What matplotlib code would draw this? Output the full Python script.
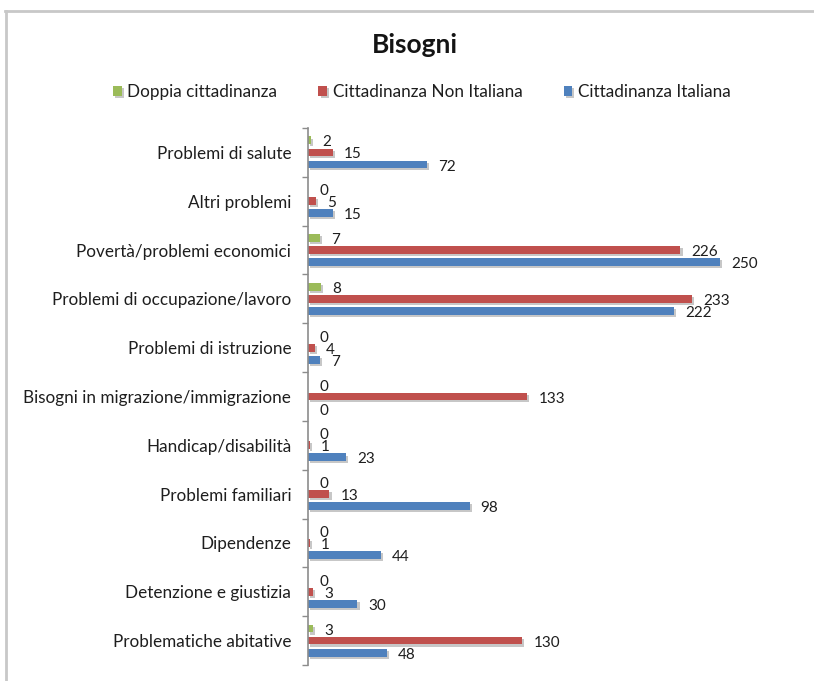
import matplotlib
matplotlib.use("Agg")
import matplotlib.pyplot as plt
import matplotlib.patheffects as pe
from matplotlib.lines import Line2D
import numpy as np

plt.rcParams['font.family'] = ['Lato', 'DejaVu Sans']

title = "Bisogni"
categories = [
    "Problemi di salute",
    "Altri problemi",
    "Povertà/problemi economici",
    "Problemi di occupazione/lavoro",
    "Problemi di istruzione",
    "Bisogni in migrazione/immigrazione",
    "Handicap/disabilità",
    "Problemi familiari",
    "Dipendenze",
    "Detenzione e giustizia",
    "Problematiche abitative",
]
series_names = ["Doppia cittadinanza", "Cittadinanza Non Italiana", "Cittadinanza Italiana"]
doppia = [2, 0, 7, 8, 0, 0, 0, 0, 0, 0, 3]
non_italiana = [15, 5, 226, 233, 4, 133, 1, 13, 1, 3, 130]
italiana = [72, 15, 250, 222, 7, 0, 23, 98, 44, 30, 48]
colors = ["#9BBB59", "#C0504D", "#4F81BD"]

W, H = 814, 681
fig = plt.figure(figsize=(W / 100, H / 100), dpi=100)
ax = fig.add_axes([308 / W, 1 - 665 / H, (753 - 308) / W, (665 - 128) / H])

n = len(categories)
y = np.arange(n)
offsets = [-0.247, 0.0, 0.247]
bh = 0.16
shadow = [pe.withSimplePatchShadow(offset=(1.5, -1.5), shadow_rgbFace="#9a9a9a", alpha=0.55)]
txtcol = "#1e1e1e"
handles = []
for vals, off, col, name in zip([doppia, non_italiana, italiana], offsets, colors, series_names):
    bars = ax.barh(y + off, vals, height=bh, color=col, edgecolor="none", label=name)
    handles.append(bars)
    for b, v in zip(bars, vals):
        if v > 0:
            b.set_path_effects(shadow)
    for yi, v in zip(y + off, vals):
        ax.annotate(str(v), xy=(v, yi), xytext=(8, -1.5), textcoords="offset points",
                    ha="left", va="center", fontsize=11, color=txtcol)

ax.set_xlim(0, 270)
ax.set_ylim(n - 0.5, -0.5)
ax.set_yticks(y)
ax.set_yticklabels(categories, fontsize=12.3, color=txtcol)
ax.set_yticks(np.arange(n + 1) - 0.5, minor=True)
ax.tick_params(axis="y", which="major", length=0, pad=12)
ax.tick_params(axis="y", which="minor", length=4, color="#8c8c8c", width=1)
ax.set_xticks([])
for s in ["top", "right", "bottom"]:
    ax.spines[s].set_visible(False)
ax.spines["left"].set_color("#8c8c8c")
ax.spines["left"].set_linewidth(1.2)

fig.text(415 / W, 1 - 45 / H, title, ha="center", va="center", fontsize=19, fontweight="bold", color="#141414")

fig.legend(handles=handles, labels=series_names, loc="center", bbox_to_anchor=(422 / W, 1 - 92 / H),
           ncol=3, frameon=False, fontsize=12.3, handlelength=0.5, handleheight=0.5,
           handletextpad=0.35, columnspacing=2.4, labelcolor=txtcol)

# chart border (top and left)
fig.add_artist(Line2D([5 / W, 1.0], [1 - 11 / H, 1 - 11 / H], color="#c8c8c8", lw=2))
fig.add_artist(Line2D([6 / W, 6 / W], [0, 1 - 11 / H], color="#c8c8c8", lw=2))

fig.savefig("out.png", dpi=100, facecolor="white")
